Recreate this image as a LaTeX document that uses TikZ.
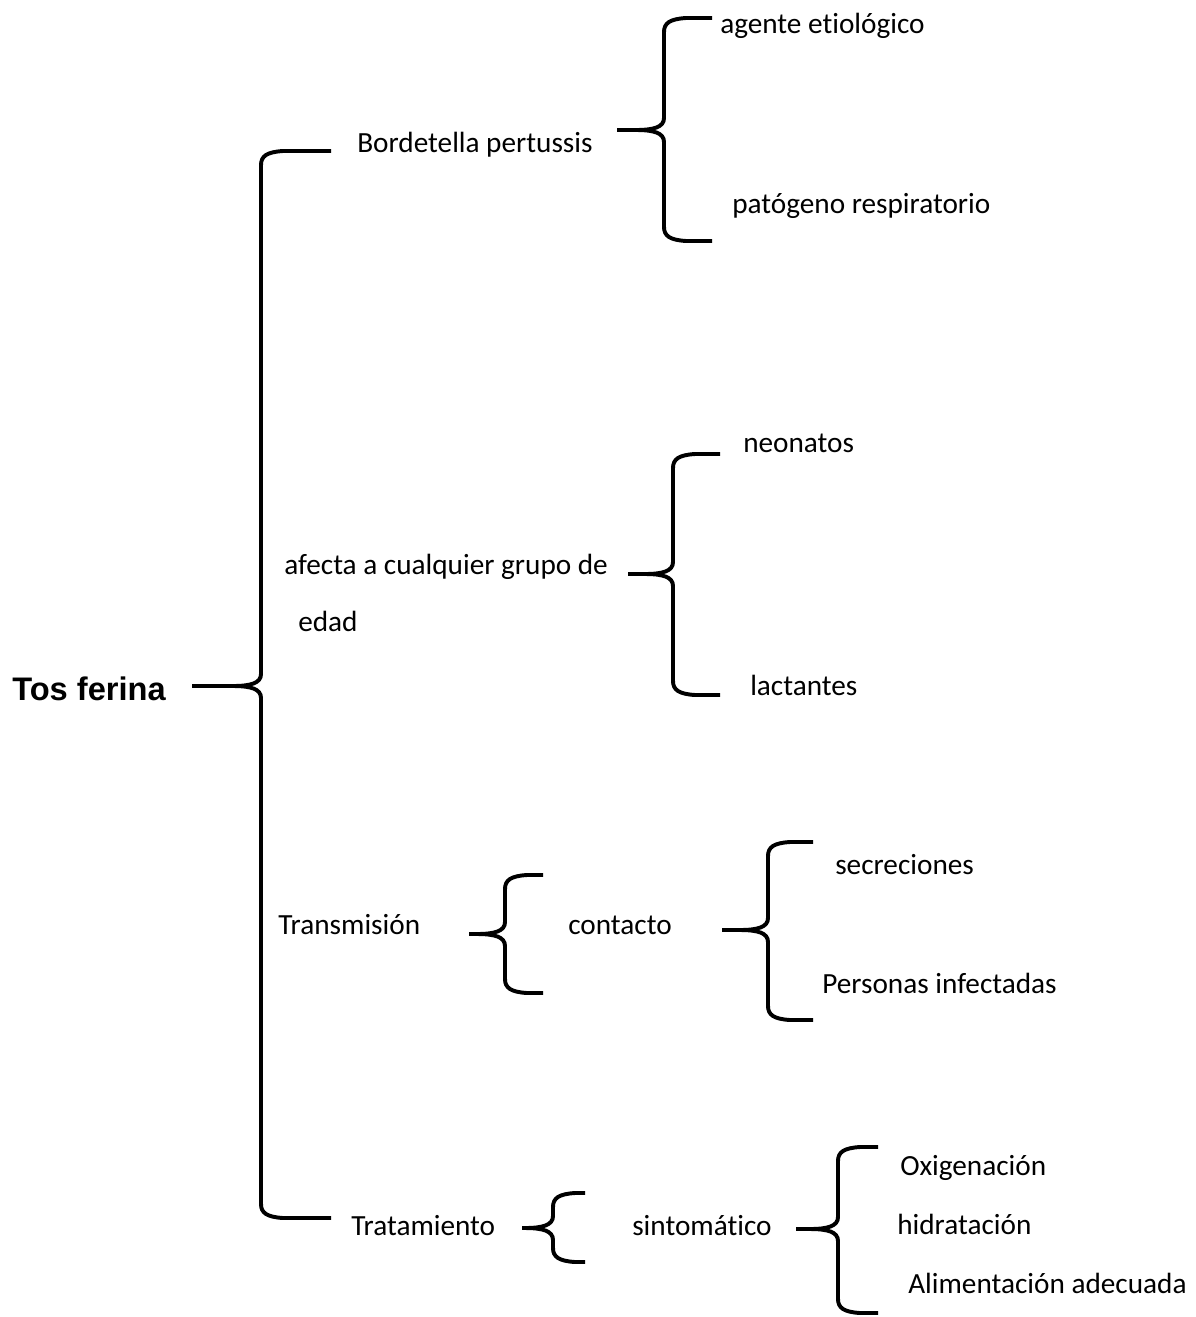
\documentclass[tikz,border=0pt]{standalone}
\usepackage{fontspec}
\setmainfont{Carlito}[Ligatures={NoCommon,NoRequired,NoContextual},RawFeature=-calt]
\newfontfamily\titlefont{Liberation Sans}
\begin{document}
\begin{tikzpicture}[x=0.025cm,y=-0.025cm,
	llave/.style={line width=2.8pt,line join=round},
	txt/.style={anchor=base west,inner sep=0pt,font=\fontsize{20.8}{24}\selectfont}]
	\useasboundingbox (0,0) rectangle (1196,1317);
	\node[anchor=base west,inner sep=0pt,font=\titlefont\bfseries\fontsize{23.2}{27}\selectfont] (tos) at (12,700) {Tos ferina};
	\node[txt] (bordetella) at (357,152) {Bordetella pertussis};
	\node[txt] (agente) at (720,33) {agente et\kern0pt iológico};
	\node[txt] (patogeno) at (732,213) {patógeno respiratorio};
	\node[txt] (afecta) at (284,574) {afecta a cualquier grupo de};
	\node[txt] (edad) at (298,631) {edad};
	\node[txt] (neonatos) at (743,452) {neonatos};
	\node[txt] (lactantes) at (750,695) {lactantes};
	\node[txt] (transmision) at (278,934) {Transmisión};
	\node[txt] (contacto) at (568,934) {contacto};
	\node[txt] (secreciones) at (835,874) {secreciones};
	\node[txt] (personas) at (822,993) {Personas infectadas};
	\node[txt] (tratamiento) at (351,1235) {Tratamiento};
	\node[txt] (sintomatico) at (632,1235) {sintomát\kern0pt ico};
	\node[txt] (oxigenacion) at (900,1175) {Oxigenación};
	\node[txt] (hidratacion) at (897,1234) {hidratación};
	\node[txt] (alimentacion) at (908,1293) {Alimentación adecuada};
	% llaves: punta / vertical / extremo / arriba / abajo
	\foreach \cx/\cy/\vx/\ex/\ty/\by in {192/686/261/331/151/1218, 617/130/664/712/18/241,
		628/574/673/720/454/695, 469/934/505/543/875/993, 722/930/768/813/842/1020,
		522/1228/553/585/1193/1262, 796/1229/838/878/1147/1313}
	{\draw[llave] (\cx,\cy) -- (\vx-28,\cy) .. controls (\vx-10,\cy) and (\vx,\cy-3) .. (\vx,\cy-12)
		-- (\vx,\ty+14) .. controls (\vx,\ty+5) and (\vx+6,\ty+1) .. (\vx+22,\ty) -- (\ex,\ty)
		(\cx,\cy) -- (\vx-28,\cy) .. controls (\vx-10,\cy) and (\vx,\cy+3) .. (\vx,\cy+12)
		-- (\vx,\by-14) .. controls (\vx,\by-5) and (\vx+6,\by-1) .. (\vx+22,\by) -- (\ex,\by);}
\end{tikzpicture}
\end{document}
